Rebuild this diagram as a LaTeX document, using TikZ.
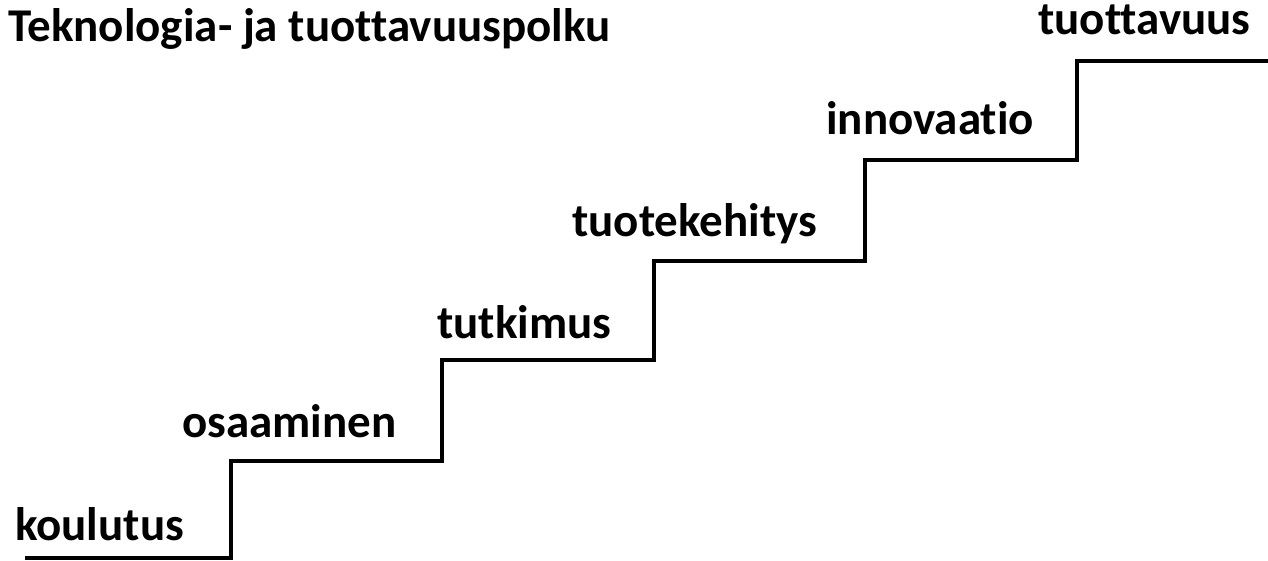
\documentclass[tikz,border=0pt]{standalone}
\usepackage{fontspec}
\setmainfont[Ligatures=NoCommon]{Carlito}
\usetikzlibrary{positioning}

\begin{document}
\begin{tikzpicture}[x=1pt,y=-1pt,
  every node/.style={font=\fontsize{47}{52}\selectfont\bfseries,inner sep=0,anchor=base west},
  stair/.style={line width=4pt,line join=miter}]
\useasboundingbox (0,0) rectangle (1268,561);

\node (title) at (8,42) {Teknologia- ja tuottavuuspolku};

\node (koulutus) at (15,540) {koulutus};
\node (osaaminen) at (182,437) {osaaminen};
\node (tutkimus) at (437,338) {tutkimus};
\node (tuotekehitys) at (572,237) {tuotekehitys};
\node (innovaatio) at (826,135) {innovaatio};
\node (tuottavuus) at (1038,35) {tuottavuus};

% portaat
\coordinate (s0) at (25,558);
\coordinate (s5) at (1268,61);
\draw[stair] (s0) -| (231,461) -| (442,360) -| (654,261)
  -| (865,160) -| (1077,61) -- (s5);
\end{tikzpicture}
\end{document}
